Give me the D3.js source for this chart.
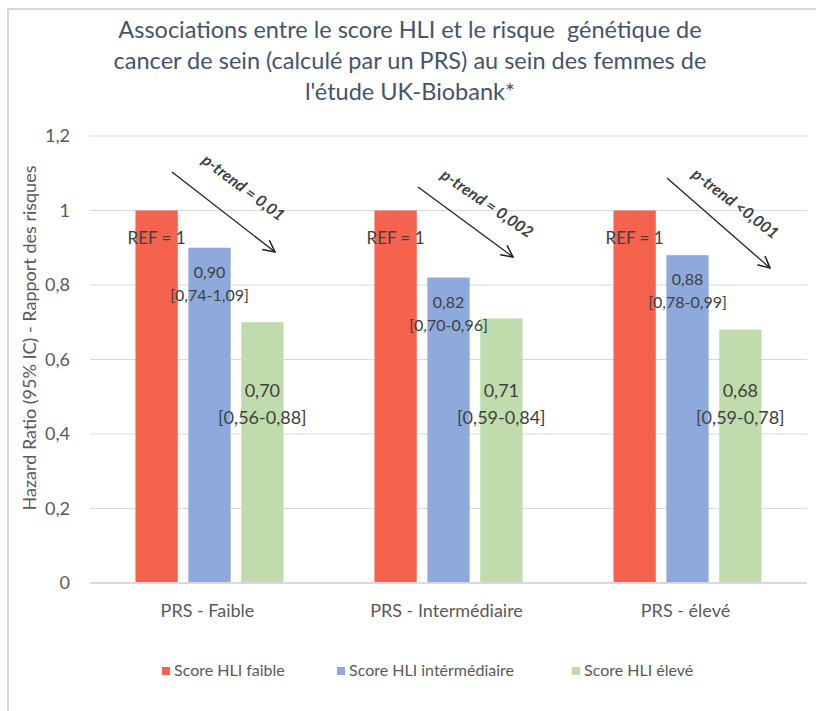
<!DOCTYPE html>
<html>
<head>
<meta charset="utf-8">
<script src="https://cdn.jsdelivr.net/npm/d3@7"></script>
<style>
  body { margin: 0; background: #fff; }
  text { font-family: Lato, "Open Sans", sans-serif; }
</style>
</head>
<body>
<div id="chart"></div>
<script>
// data
const categories = ["PRS - Faible", "PRS - Intermédiaire", "PRS - élevé"];
const seriesNames = ["Score HLI faible", "Score HLI intérmédiaire", "Score HLI élevé"];
const hliLow = [1, 1, 1];
const hliMid = [0.90, 0.82, 0.88];
const hliHigh = [0.70, 0.71, 0.68];
const midLabels = ["0,90", "0,82", "0,88"];
const midCI = ["[0,74-1,09]", "[0,70-0,96]", "[0,78-0,99]"];
const highLabels = ["0,70", "0,71", "0,68"];
const highCI = ["[0,56-0,88]", "[0,59-0,84]", "[0,59-0,78]"];
const pTrend = ["p-trend = 0,01", "p-trend = 0,002", "p-trend <0,001"];
const yTicks = [0, 0.2, 0.4, 0.6, 0.8, 1, 1.2];
const titleLines = [
    "Associations entre le score HLI et le risque  génétique de",
    "cancer de sein (calculé par un PRS) au sein des femmes de",
    "l'étude UK-Biobank*"
];

const colors = ["#F5634F", "#8EA9DB", "#C0DCAC"];

const W = 816, H = 711;
const mLeft = 90, mRight = 807, mTop = 136, mBottom = 583;

const svg = d3.select("#chart").append("svg")
    .attr("width", W)
    .attr("height", H);

// outer frame
svg.append("rect")
    .attr("x", 8).attr("y", 9)
    .attr("width", 830).attr("height", 720)
    .attr("fill", "none")
    .attr("stroke", "#d9d9d9")
    .attr("stroke-width", 2);

// title
svg.append("g").selectAll("text")
    .data(titleLines)
    .join("text")
        .attr("x", 410)
        .attr("y", (d, i) => 38 + i * 31)
        .attr("text-anchor", "middle")
        .attr("font-size", "23.5px")
        .attr("fill", "#44546A")
        .style("white-space", "pre")
        .text(d => d);

const x0 = d3.scaleBand()
    .domain(categories)
    .range([mLeft, mRight]);

const x1 = d3.scaleBand()
    .domain(seriesNames)
    .range([0, x0.bandwidth()])
    .paddingInner(0.2)
    .paddingOuter(0.86);

const y = d3.scaleLinear()
    .domain([0, 1.2])
    .range([mBottom, mTop]);

// gridlines
svg.append("g")
    .selectAll("line")
    .data(yTicks.filter(d => d > 0))
    .join("line")
        .attr("x1", mLeft).attr("x2", mRight)
        .attr("y1", d => y(d)).attr("y2", d => y(d))
        .attr("stroke", "#d9d9d9")
        .attr("stroke-width", 1);

// y axis labels
const yAxis = svg.append("g")
    .attr("transform", `translate(${mLeft}, 0)`)
    .call(d3.axisLeft(y).tickValues(yTicks).tickSize(0).tickPadding(20)
        .tickFormat(d => String(d).replace(".", ",")));
yAxis.select(".domain").remove();
yAxis.selectAll("text")
    .attr("font-size", "18px")
    .attr("fill", "#595959")
    .style("font-family", "Lato, sans-serif");

// y axis title
svg.append("text")
    .attr("transform", "translate(36, 338) rotate(-90)")
    .attr("text-anchor", "middle")
    .attr("font-size", "18px")
    .attr("fill", "#595959")
    .text("Hazard Ratio (95% IC) - Rapport des risques");

// bars
const rows = categories.map((c, i) => ({
    cat: c,
    vals: [hliLow[i], hliMid[i], hliHigh[i]]
}));

const groups = svg.append("g")
    .selectAll("g")
    .data(rows)
    .join("g")
        .attr("transform", d => `translate(${x0(d.cat)}, 0)`);

groups.selectAll("rect")
    .data(d => d.vals.map((v, j) => ({ s: seriesNames[j], v: v, j: j })))
    .join("rect")
        .attr("x", d => x1(d.s))
        .attr("y", d => y(d.v))
        .attr("width", x1.bandwidth())
        .attr("height", d => y(0) - y(d.v))
        .attr("fill", d => colors[d.j]);

// x axis line
svg.append("line")
    .attr("x1", mLeft).attr("x2", mRight)
    .attr("y1", y(0)).attr("y2", y(0))
    .attr("stroke", "#d9d9d9")
    .attr("stroke-width", 2);

// category labels
svg.append("g").selectAll("text")
    .data(categories)
    .join("text")
        .attr("x", d => x0(d) + x0.bandwidth() / 2 - 2)
        .attr("y", 617)
        .attr("text-anchor", "middle")
        .attr("font-size", "18px")
        .attr("fill", "#595959")
        .text(d => d);

// annotations
const cx = (cat, j) => x0(cat) + x1(seriesNames[j]) + x1.bandwidth() / 2;

svg.append("g").selectAll("text")
    .data(categories)
    .join("text")
        .attr("x", d => cx(d, 0))
        .attr("y", (d, i) => y(hliLow[i]) + 33)
        .attr("text-anchor", "middle")
        .attr("font-size", "17px")
        .attr("fill", "#404040")
        .text("REF = 1");

svg.append("g").selectAll("text")
    .data(categories)
    .join("text")
        .attr("text-anchor", "middle")
        .attr("font-size", "16px")
        .attr("fill", "#404040")
        .attr("x", (d, i) => cx(d, 1))
        .attr("y", (d, i) => y(hliMid[i]) + 30)
        .call(t => t.append("tspan").text((d, i) => midLabels[i]))
        .call(t => t.append("tspan")
            .attr("x", (d, i) => cx(d, 1))
            .attr("dy", 23)
            .text((d, i) => midCI[i]));

svg.append("g").selectAll("text")
    .data(categories)
    .join("text")
        .attr("text-anchor", "middle")
        .attr("font-size", "18px")
        .attr("fill", "#404040")
        .attr("x", (d, i) => cx(d, 2))
        .attr("y", y(0.5))
        .call(t => t.append("tspan").text((d, i) => highLabels[i]))
        .call(t => t.append("tspan")
            .attr("x", (d, i) => cx(d, 2))
            .attr("dy", 27)
            .text((d, i) => highCI[i]));

// p-trend arrows
svg.append("defs").append("marker")
    .attr("id", "arr")
    .attr("viewBox", "0 0 12 12")
    .attr("refX", 11).attr("refY", 6)
    .attr("markerWidth", 14).attr("markerHeight", 14)
    .attr("markerUnits", "userSpaceOnUse")
    .attr("orient", "auto")
    .append("path")
        .attr("d", "M1,1 L11,6 L1,11")
        .attr("fill", "none")
        .attr("stroke", "#222")
        .attr("stroke-width", 1.3);

const arrowStart = [[172, 172], [418, 187], [667, 178]];
const arrowEnd = [[275, 252], [513, 257], [770, 268]];

svg.append("g").selectAll("line")
    .data(categories)
    .join("line")
        .attr("x1", (d, i) => arrowStart[i][0])
        .attr("y1", (d, i) => arrowStart[i][1])
        .attr("x2", (d, i) => arrowEnd[i][0])
        .attr("y2", (d, i) => arrowEnd[i][1])
        .attr("stroke", "#222")
        .attr("stroke-width", 1.3)
        .attr("marker-end", "url(#arr)");

const pPos = [[240, 192, 37], [484, 208, 34.5], [732, 208, 37.5]];
svg.append("g").selectAll("text")
    .data(pTrend)
    .join("text")
        .attr("transform", (d, i) => `translate(${pPos[i][0]}, ${pPos[i][1]}) rotate(${pPos[i][2]})`)
        .attr("text-anchor", "middle")
        .attr("font-size", "16px")
        .attr("font-weight", "bold")
        .attr("font-style", "italic")
        .attr("fill", "#404040")
        .text(d => d);

// legend
const legendX = [162, 337, 572];
const legend = svg.append("g").selectAll("g")
    .data(seriesNames)
    .join("g")
        .attr("transform", (d, i) => `translate(${legendX[i]}, 667)`);
legend.append("rect")
    .attr("width", 8).attr("height", 8)
    .attr("fill", (d, i) => colors[i]);
legend.append("text")
    .attr("x", 12).attr("y", 9)
    .attr("font-size", "16px")
    .attr("fill", "#595959")
    .text(d => d);
</script>
</body>
</html>
